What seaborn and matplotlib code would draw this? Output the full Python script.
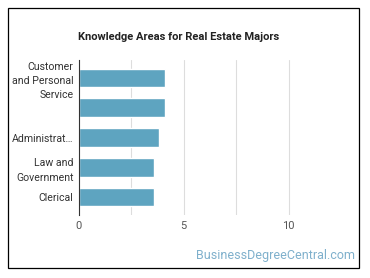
import matplotlib
matplotlib.use("Agg")
import matplotlib.pyplot as plt
import seaborn as sns
import pandas as pd

categories = ["Customer\nand Personal\nService", "", "Administrat…", "Law and\nGovernment", "Clerical"]
values = [4.1, 4.1, 3.8, 3.6, 3.6]
xticks = [0, 5, 10]

sns.set_theme(style="white")
plt.rcParams['font.family'] = ['Roboto', 'DejaVu Sans']

df = pd.DataFrame({"cat": [f"c{i}" for i in range(len(categories))], "val": values})

fig = plt.figure(figsize=(3.7, 2.78), dpi=100)
ax = fig.add_axes([79/370, 1 - 215/278, (341-79)/370, (215-60)/278])
sns.barplot(data=df, x="val", y="cat", color="#5ea4c0", width=0.62, ax=ax, saturation=1)
ax.set_yticks(range(len(categories)))
ax.set_yticklabels(categories, fontsize=7.6, color="#333333")
for t in ax.get_yticklabels():
    t.set_multialignment("right")
    t.set_linespacing(1.55)
ax.set_xlim(0, 12.5)
ax.set_xticks(xticks)
ax.set_xticklabels([str(t) for t in xticks], fontsize=8, color="#555555")
for g in [2.5, 5, 7.5, 10]:
    ax.axvline(g, color="#dddddd", lw=0.8, zorder=0)
ax.set_xlabel("")
ax.set_ylabel("")
for s in ["top", "right", "bottom"]:
    ax.spines[s].set_visible(False)
ax.spines["left"].set_color("#333333")
ax.spines["left"].set_linewidth(0.8)
ax.tick_params(axis="both", length=0, pad=4)
ax.set_ylim(4.6, -0.6)

fig.text(179/370, 1 - 37/278, "Knowledge Areas for Real Estate Majors", ha="center", va="center",
         fontsize=8, fontweight="bold", color="#222222")
fig.text(355/370, 1 - 256/278, "BusinessDegreeCentral.com", ha="right", va="center",
         fontsize=9, color="#7fb0cc")
border = plt.Rectangle((8/370, 1 - 268/278), (359-8)/370, (268-8)/278, transform=fig.transFigure,
                       fill=False, edgecolor="black", lw=0.9)
fig.add_artist(border)
fig.savefig("out.png", dpi=100)
